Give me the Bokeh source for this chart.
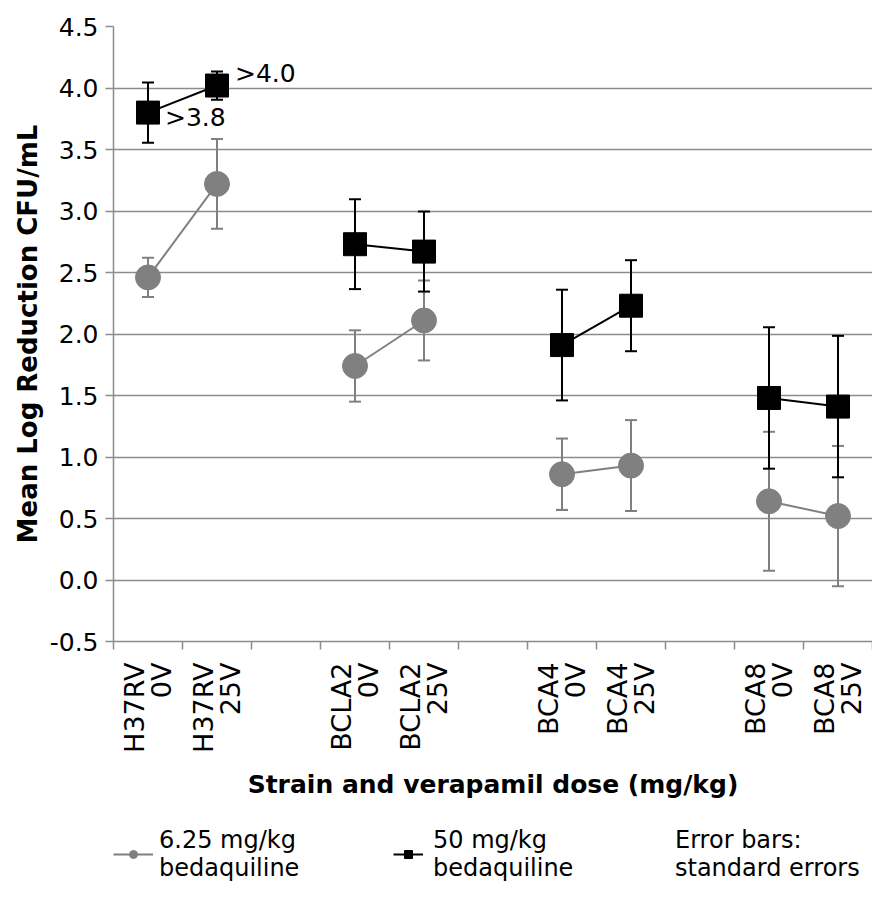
import math
from bokeh.plotting import figure
from bokeh.layouts import column
from bokeh.models import Range1d, FixedTicker, PrintfTickFormatter, Legend, LegendItem
from bokeh.core.properties import value
from bokeh.embed import file_html
from bokeh.resources import INLINE

# ---------------- data ----------------
strains = ["H37RV", "BCLA2", "BCA4", "BCA8"]
doses = ["0V", "25V"]

low_mean = [2.46, 3.22, 1.74, 2.11, 0.86, 0.93, 0.64, 0.52]   # 6.25 mg/kg bedaquiline
low_se = [0.16, 0.365, 0.29, 0.325, 0.29, 0.37, 0.565, 0.57]
high_mean = [3.80, 4.02, 2.73, 2.67, 1.91, 2.23, 1.48, 1.41]  # 50 mg/kg bedaquiline
high_se = [0.245, 0.115, 0.365, 0.325, 0.45, 0.37, 0.575, 0.575]

annot_idx = [0, 1]
annot_text = [">3.8", ">4.0"]

y_ticks = [-0.5, 0.0, 0.5, 1.0, 1.5, 2.0, 2.5, 3.0, 3.5, 4.0, 4.5]

legend_low = "6.25 mg/kg\nbedaquiline"
legend_high = "50 mg/kg\nbedaquiline"
legend_note = "Error bars:\nstandard errors"
x_title = "Strain and verapamil dose (mg/kg)"
y_title = "Mean Log Reduction CFU/mL"

# ---------------- derived positions ----------------
n_slots = len(strains) * (len(doses) + 1) - 1
xs = [i * (len(doses) + 1) + j + 0.5 for i in range(len(strains)) for j in range(len(doses))]
labels = [f"{s}\n{d}" for s in strains for d in doses]

FONT = "DejaVu Sans"
GRAY = "#808080"
GRID = "#8c8c8c"
W = 872

p = figure(width=W, height=820, output_backend="svg", toolbar_location=None,
           x_range=Range1d(0, n_slots), y_range=Range1d(-0.5, 4.5),
           min_border_left=113, min_border_right=0, min_border_top=26,
           min_border_bottom=179)
p.outline_line_color = None
p.background_fill_color = "white"
p.border_fill_color = "white"

p.xgrid.visible = False
p.ygrid.ticker = FixedTicker(ticks=y_ticks)
p.ygrid.grid_line_color = GRID
p.ygrid.grid_line_width = 1.5

# y axis
yax = p.yaxis[0]
yax.ticker = FixedTicker(ticks=y_ticks)
yax.formatter = PrintfTickFormatter(format="%.1f")
yax.axis_line_color = GRID
yax.axis_line_width = 1.5
yax.major_tick_line_color = GRID
yax.major_tick_line_width = 1.5
yax.major_tick_out = 8
yax.major_tick_in = 0
yax.minor_tick_line_color = None
yax.major_label_standoff = 7
yax.major_label_text_font = FONT
yax.major_label_text_font_size = "25px"
yax.major_label_text_color = "black"
yax.axis_label = y_title
yax.axis_label_text_font = FONT
yax.axis_label_text_font_size = "26px"
yax.axis_label_text_font_style = "bold"
yax.axis_label_text_color = "black"
yax.axis_label_standoff = 4

# x axis
xax = p.xaxis[0]
xax.ticker = FixedTicker(ticks=xs, minor_ticks=list(range(n_slots + 1)))
xax.major_label_overrides = {x: l for x, l in zip(xs, labels)}
xax.axis_line_color = GRID
xax.axis_line_width = 1.5
xax.major_tick_out = 0
xax.major_tick_in = 0
xax.major_tick_line_color = None
xax.minor_tick_out = 8
xax.minor_tick_in = 0
xax.minor_tick_line_color = GRID
xax.minor_tick_line_width = 1.5
xax.major_label_orientation = math.pi / 2
xax.major_label_standoff = 13
xax.major_label_text_font = FONT
xax.major_label_text_font_size = "27px"
xax.major_label_text_line_height = 0.85
xax.major_label_text_color = "black"
xax.axis_label = x_title
xax.axis_label_text_font = FONT
xax.axis_label_text_font_size = "25px"
xax.axis_label_text_font_style = "bold"
xax.axis_label_text_color = "black"
xax.axis_label_standoff = 14


def group_xy(vals):
    k = len(doses)
    gx = [xs[i:i + k] for i in range(0, len(xs), k)]
    gy = [vals[i:i + k] for i in range(0, len(vals), k)]
    return gx, gy


def draw_series(mean, se, color, marker, size, lw):
    lo = [m - s for m, s in zip(mean, se)]
    hi = [m + s for m, s in zip(mean, se)]
    p.segment(x0=xs, y0=lo, x1=xs, y1=hi, line_color=color, line_width=lw)
    p.scatter(x=xs + xs, y=lo + hi, marker="dash", size=12, line_color=color, line_width=lw)
    gx, gy = group_xy(mean)
    p.multi_line(xs=gx, ys=gy, line_color=color, line_width=2)
    p.scatter(x=xs, y=mean, marker=marker, size=size, fill_color=color, line_color=color)


draw_series(low_mean, low_se, GRAY, "circle", 25, 2)
draw_series(high_mean, high_se, "black", "square", 23, 2)

# annotations next to the H37RV 50 mg/kg points
p.text(x=[xs[annot_idx[0]]], y=[high_mean[annot_idx[0]]], text=[annot_text[0]],
       x_offset=17, y_offset=5, text_font=value(FONT), text_font_size="25px",
       text_baseline="alphabetic", text_align="left", text_color="black")
p.text(x=[xs[annot_idx[1]]], y=[high_mean[annot_idx[1]]], text=[annot_text[1]],
       x_offset=18, y_offset=-12, text_font=value(FONT), text_font_size="25px",
       text_baseline="alphabetic", text_align="left", text_color="black")

# ---------------- legend strip ----------------
lp = figure(width=W, height=69, output_backend="svg", toolbar_location=None,
            x_range=Range1d(0, 1), y_range=Range1d(0, 1), min_border=0)
lp.axis.visible = False
lp.grid.visible = False
lp.outline_line_color = None

# legend proxies: points kept outside the visible range
px, py = [-1, -0.5], [-1, -1]
g_line = lp.line(x=px, y=py, line_color=GRAY, line_width=2)
g_pt = lp.scatter(x=px, y=py, marker="circle", size=13, fill_color=GRAY, line_color=GRAY)
b_line = lp.line(x=px, y=py, line_color="black", line_width=2)
b_pt = lp.scatter(x=px, y=py, marker="square", size=11, fill_color="black", line_color="black")
blank = lp.scatter(x=px, y=py, marker="circle", fill_alpha=0, line_alpha=0)


def add_legend(label, rends, x, gw, standoff):
    lg = Legend(items=[LegendItem(label=label, renderers=rends)], location=(x, 7),
                padding=0, margin=0, spacing=0, border_line_color=None,
                background_fill_alpha=0, glyph_width=gw, glyph_height=20,
                label_standoff=standoff, label_text_font=FONT,
                label_text_font_size="24px", label_text_line_height=0.88,
                label_text_color="black")
    lp.add_layout(lg)


add_legend(legend_low, [g_line, g_pt], 0, 40, 6)
add_legend(legend_high, [b_line, b_pt], 280, 30, 10)
add_legend(legend_note, [blank], 562, 0, 0)

open("out.html", "w").write(file_html(column(p, lp), INLINE))
